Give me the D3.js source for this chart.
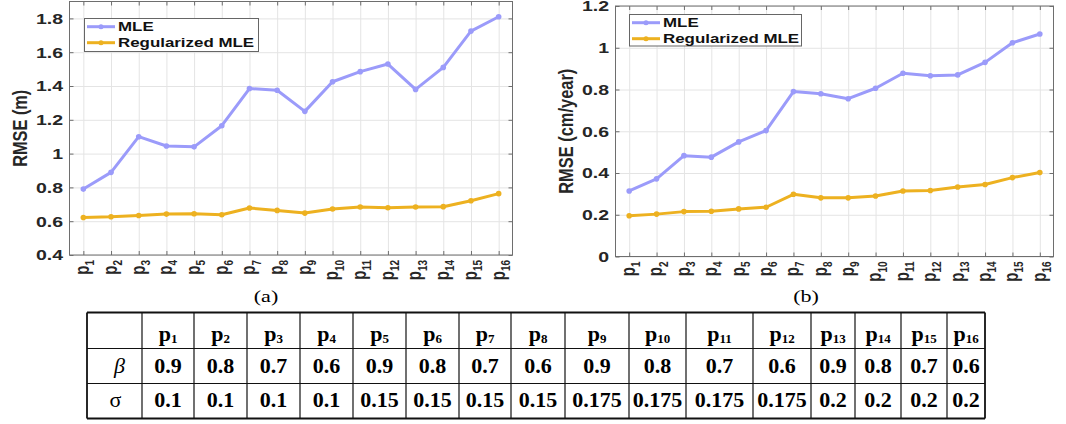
<!DOCTYPE html>
<html>
<head>
<meta charset="utf-8">
<script src="https://cdn.jsdelivr.net/npm/d3@7"></script>
<style>
  body { margin: 0; background: #fff; }
  svg { display: block; }
</style>
</head>
<body>
<div id="chart"></div>
<script>
// parameter sets p1..p16
const params = d3.range(1, 17);

// (a) RMSE of positions (m)
const mleA = [0.79, 0.889, 1.10, 1.045, 1.04, 1.165, 1.385, 1.375, 1.25, 1.425, 1.485, 1.53, 1.38, 1.51, 1.725, 1.81];
const regA = [0.622, 0.626, 0.634, 0.642, 0.644, 0.638, 0.678, 0.664, 0.648, 0.672, 0.684, 0.680, 0.684, 0.686, 0.721, 0.763];

// (b) RMSE of velocities (cm/year)
const mleB = [0.314, 0.372, 0.483, 0.476, 0.549, 0.603, 0.790, 0.780, 0.756, 0.806, 0.878, 0.866, 0.870, 0.930, 1.024, 1.066];
const regB = [0.195, 0.203, 0.215, 0.217, 0.228, 0.236, 0.298, 0.281, 0.281, 0.290, 0.314, 0.316, 0.333, 0.345, 0.378, 0.402];

const seriesNames = ['MLE', 'Regularized MLE'];
const seriesColors = ['#9b9bfa', '#edb120'];

const yTicksA = [0.4, 0.6, 0.8, 1, 1.2, 1.4, 1.6, 1.8];
const yTicksB = [0, 0.2, 0.4, 0.6, 0.8, 1, 1.2];

// table below the plots
const betaVals = ['0.9', '0.8', '0.7', '0.6', '0.9', '0.8', '0.7', '0.6', '0.9', '0.8', '0.7', '0.6', '0.9', '0.8', '0.7', '0.6'];
const sigmaVals = ['0.1', '0.1', '0.1', '0.1', '0.15', '0.15', '0.15', '0.15', '0.175', '0.175', '0.175', '0.175', '0.2', '0.2', '0.2', '0.2'];

const SANS = '"Liberation Sans", Arial, Helvetica, sans-serif';
const SERIF = '"Liberation Serif", "Times New Roman", serif';
const SX = 1.3;   // the original figure is stretched sideways
const AXIS = '#6e6e6e';

const svg = d3.select('#chart')
    .append('svg')
    .attr('width', 1066)
    .attr('height', 424);

function drawPanel(cfg) {
    const g = svg.append('g');
    const height = cfg.bottom - cfg.top;

    const x = d3.scaleLinear()
        .domain([0.5, 16.5])
        .range([cfg.left, cfg.right]);

    const y = d3.scaleLinear()
        .domain(cfg.yDomain)
        .range([cfg.bottom, cfg.top]);

    // grid
    const gx = g.append('g')
        .attr('transform', `translate(0,${cfg.bottom})`)
        .call(d3.axisBottom(x).tickValues(params).tickSizeInner(-height).tickSizeOuter(0).tickFormat(''));
    const gy = g.append('g')
        .attr('transform', `translate(${cfg.left},0)`)
        .call(d3.axisLeft(y).tickValues(cfg.yTicks).tickSizeInner(-(cfg.right - cfg.left)).tickSizeOuter(0).tickFormat(''));
    [gx, gy].forEach(a => {
        a.select('.domain').remove();
        a.selectAll('text').remove();
        a.selectAll('line').attr('stroke', '#e4e4e4');
    });

    // box
    g.append('rect')
        .attr('x', cfg.left)
        .attr('y', cfg.top)
        .attr('width', cfg.right - cfg.left)
        .attr('height', height)
        .attr('fill', 'none')
        .attr('stroke', AXIS);

    // inward ticks on all four sides
    const tickAxes = [
        [d3.axisBottom(x).tickValues(params), `translate(0,${cfg.bottom})`],
        [d3.axisTop(x).tickValues(params), `translate(0,${cfg.top})`],
        [d3.axisLeft(y).tickValues(cfg.yTicks), `translate(${cfg.left},0)`],
        [d3.axisRight(y).tickValues(cfg.yTicks), `translate(${cfg.right},0)`]
    ];
    tickAxes.forEach(([ax, tr], i) => {
        const a = g.append('g')
            .attr('transform', tr)
            .call(ax.tickSizeInner(-4).tickSizeOuter(0).tickPadding(5).tickFormat(d3.format('~g')));
        a.select('.domain').remove();
        a.selectAll('line').attr('stroke', AXIS);
        if (i === 2) {
            a.selectAll('text')
                .attr('transform', `scale(${SX},1)`)
                .attr('fill', '#262626')
                .style('font-family', SANS)
                .style('font-size', '15px')
                .style('font-weight', 'bold');
        } else {
            a.selectAll('text').remove();
        }
    });

    // x tick labels p_i, rotated
    params.forEach(p => {
        const t = g.append('text')
            .attr('transform', `translate(${x(p)},${cfg.bottom + 5}) scale(${SX},1) rotate(-90)`)
            .attr('text-anchor', 'end')
            .attr('dy', '0.3em')
            .attr('fill', '#262626')
            .style('font-family', SANS)
            .style('font-weight', 'bold')
            .style('font-size', '15px');
        t.append('tspan').text('p');
        t.append('tspan')
            .attr('dy', 4)
            .style('font-size', '10px')
            .text(p);
    });

    // y label
    g.append('text')
        .attr('transform', `translate(${cfg.yLabelX},${(cfg.top + cfg.bottom) / 2}) scale(${SX},1) rotate(-90)`)
        .attr('text-anchor', 'middle')
        .attr('textLength', cfg.yLabelLen)
        .attr('lengthAdjust', 'spacingAndGlyphs')
        .attr('fill', '#262626')
        .style('font-family', SANS)
        .style('font-weight', 'bold')
        .style('font-size', '16px')
        .text(cfg.yLabel);

    // lines + dots
    const line = d3.line()
        .x((d, i) => x(params[i]))
        .y(d => y(d));

    cfg.series.forEach((vals, s) => {
        g.append('path')
            .datum(vals)
            .attr('fill', 'none')
            .attr('stroke', seriesColors[s])
            .attr('stroke-width', 3)
            .attr('stroke-linejoin', 'round')
            .attr('d', line);

        g.selectAll(null)
            .data(vals)
            .enter()
            .append('circle')
            .attr('cx', (d, i) => x(params[i]))
            .attr('cy', d => y(d))
            .attr('r', 2.8)
            .attr('fill', seriesColors[s]);
    });

    // legend
    const lg = cfg.legend;
    g.append('rect')
        .attr('x', lg.x + 0.5)
        .attr('y', lg.y + 0.5)
        .attr('width', lg.w)
        .attr('height', lg.h)
        .attr('fill', '#fff')
        .attr('stroke', '#666');

    seriesNames.forEach((name, s) => {
        const cy = lg.y + 8.7 + s * 16;
        g.append('line')
            .attr('x1', lg.x + 3)
            .attr('x2', lg.x + 31)
            .attr('y1', cy)
            .attr('y2', cy)
            .attr('stroke', seriesColors[s])
            .attr('stroke-width', 3);
        g.append('circle')
            .attr('cx', lg.x + 17)
            .attr('cy', cy)
            .attr('r', 2.5)
            .attr('fill', seriesColors[s]);
        g.append('text')
            .attr('transform', `translate(${lg.x + 34},${cy}) scale(${SX},1)`)
            .attr('dy', '0.36em')
            .attr('fill', '#111')
            .style('font-family', SANS)
            .style('font-weight', 'bold')
            .style('font-size', '13px')
            .text(name);
    });

    // caption
    svg.append('text')
        .attr('transform', `translate(${cfg.captionX},302) scale(${SX},1)`)
        .attr('text-anchor', 'middle')
        .style('font-family', SERIF)
        .style('font-size', '17px')
        .text(cfg.caption);
}

drawPanel({
    left: 69.5, right: 512.5, top: 1.5, bottom: 255,
    yDomain: [0.4, 1.9], yTicks: yTicksA,
    series: [mleA, regA],
    yLabel: 'RMSE (m)', yLabelX: 26.5, yLabelLen: 77,
    legend: {x: 84, y: 18, w: 174, h: 33},
    caption: '(a)', captionX: 266
});

drawPanel({
    left: 615.5, right: 1053.5, top: 6, bottom: 256.5,
    yDomain: [0, 1.2], yTicks: yTicksB,
    series: [mleB, regB],
    yLabel: 'RMSE (cm/year)', yLabelX: 573, yLabelLen: 125,
    legend: {x: 629, y: 14, w: 172, h: 31.5},
    caption: '(b)', captionX: 806
});

// parameter table
const colEdges = [87, 142, 194, 247, 300, 353, 406, 459, 511, 565, 629, 686, 753, 811, 855, 901, 947, 985];
const rowEdges = [312.5, 348.5, 383.5, 418.5];
const rowBase = [341, 373, 407];

const tbl = svg.append('g');

colEdges.forEach((cx, i) => {
    const outer = i === 0 || i === colEdges.length - 1;
    tbl.append('line')
        .attr('x1', cx).attr('x2', cx)
        .attr('y1', rowEdges[0]).attr('y2', rowEdges[3])
        .attr('stroke', '#111')
        .attr('stroke-width', outer ? 1.8 : 1.2);
});
rowEdges.forEach((ry, i) => {
    const outer = i === 0 || i === rowEdges.length - 1;
    tbl.append('line')
        .attr('x1', colEdges[0]).attr('x2', colEdges[colEdges.length - 1])
        .attr('y1', ry).attr('y2', ry)
        .attr('stroke', '#111')
        .attr('stroke-width', outer ? 1.8 : 1.2);
});

const cellX = i => (colEdges[i + 1] + colEdges[i + 2]) / 2;
const firstX = (colEdges[0] + colEdges[1]) / 2;

params.forEach((p, i) => {
    const t = tbl.append('text')
        .attr('x', cellX(i))
        .attr('y', rowBase[0])
        .attr('text-anchor', 'middle')
        .style('font-family', SERIF)
        .style('font-weight', 'bold')
        .style('font-size', '22px');
    t.append('tspan').text('p');
    t.append('tspan')
        .attr('dy', 2)
        .style('font-size', '13px')
        .text(p);

    [betaVals, sigmaVals].forEach((vals, r) => {
        tbl.append('text')
            .attr('x', cellX(i))
            .attr('y', rowBase[r + 1])
            .attr('text-anchor', 'middle')
            .style('font-family', SERIF)
            .style('font-weight', 'bold')
            .style('font-size', '22px')
            .text(vals[i]);
    });
});

tbl.append('text')
    .attr('x', firstX + 5)
    .attr('y', rowBase[1])
    .attr('text-anchor', 'middle')
    .style('font-family', SERIF)
    .style('font-style', 'italic')
    .style('font-size', '22px')
    .text('β');

tbl.append('text')
    .attr('x', firstX + 1)
    .attr('y', rowBase[2])
    .attr('text-anchor', 'middle')
    .style('font-family', SERIF)
    .style('font-size', '22px')
    .text('σ');
</script>
</body>
</html>
